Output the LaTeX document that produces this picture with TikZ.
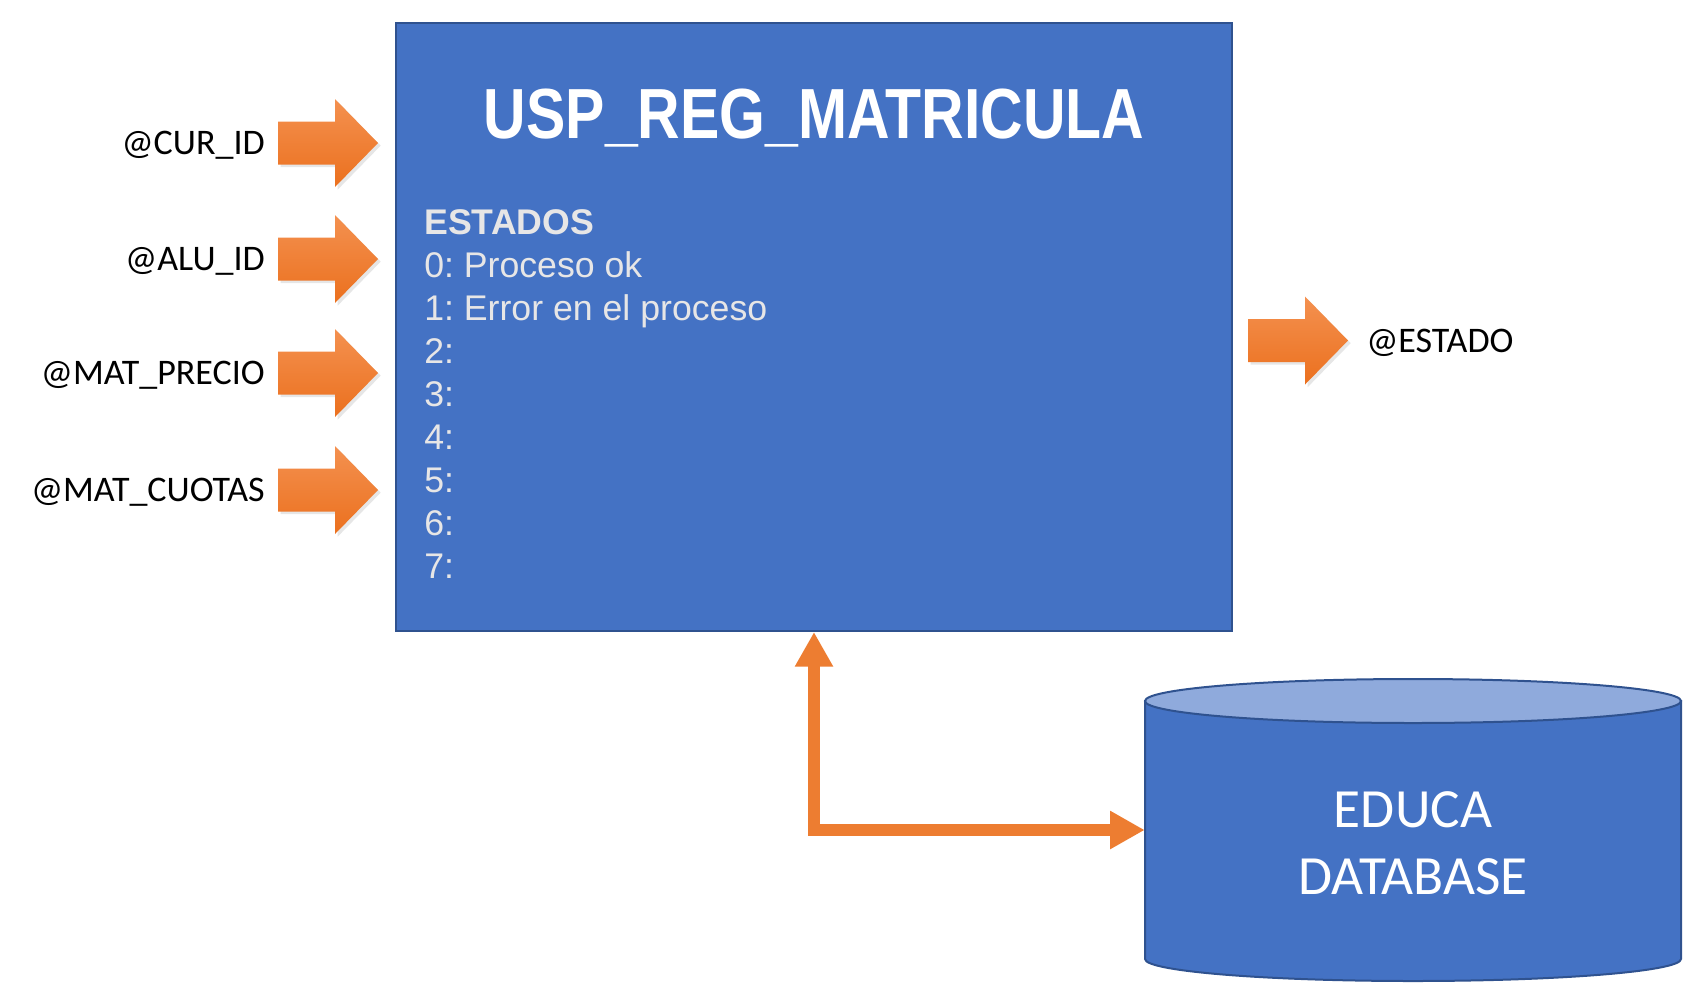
\documentclass[tikz,border=0pt]{standalone}
\usepackage{fontspec}
\setmainfont{Liberation Sans}
\newfontfamily\calibri{Carlito}
\usetikzlibrary{arrows.meta,shadows}

\definecolor{boxblue}{RGB}{68,114,196}
\definecolor{boxline}{RGB}{47,82,143}
\definecolor{toplight}{RGB}{143,170,220}
\definecolor{connorange}{RGB}{237,125,49}
\definecolor{arrowtop}{RGB}{244,145,80}
\definecolor{arrowbottom}{RGB}{235,112,30}
\definecolor{statetext}{RGB}{231,230,230}

\begin{document}
\frenchspacing
\begin{tikzpicture}[x=0.75pt,y=0.75pt,yscale=-1,xscale=1,
    procbox/.style={draw=boxline, fill=boxblue, line width=1.5pt, inner sep=0pt},
    parlabel/.style={font=\calibri\fontsize{27}{32}\selectfont, inner sep=0pt},
    fatarrow/.style={top color=arrowtop, bottom color=arrowbottom, draw=none,
        drop shadow={opacity=0.2, shadow xshift=2pt, shadow yshift=-2pt}},
    conn/.style={draw=connorange, line width=9pt,
        arrows={Triangle[length=26pt,width=27pt]-Triangle[length=26pt,width=27pt]}},
    pics/inarrow/.style={code={
        \path[fatarrow] (0,-21.5) -- (57,-21.5) -- (57,-44) -- (100,0) -- (57,44) -- (57,21.5) -- (0,21.5) -- cycle;}}
  ]
    \useasboundingbox (0,0) rectangle (1703,1004);

    % procedimiento
    \node[procbox, minimum width=627pt, minimum height=456pt, anchor=north west] (proc) at (395,22) {};
    \node[font=\bfseries\fontsize{53.25}{60}\selectfont, text=white, anchor=base, inner sep=0pt] (title) at (814,138) {\scalebox{0.83}[1]{USP\_REG\_MATRICULA}};
    \node[font=\fontsize{26.75}{32.25}\selectfont, text=statetext, align=left, anchor=north west, inner sep=0pt] (estados) at (424,209)
        {\textbf{ESTADOS}\\0: Proceso ok\\1: Error en el proceso\\2:\\3:\\4:\\5:\\6:\\7:};

    % parametros de entrada
    \pic at (278,143) {inarrow};
    \pic at (278,259) {inarrow};
    \pic at (278,373) {inarrow};
    \pic at (278,490) {inarrow};
    \node[parlabel, anchor=base east] (cur) at (265,154) {@CUR\_ID};
    \node[parlabel, anchor=base east] (alu) at (265,270) {@ALU\_ID};
    \node[parlabel, anchor=base east] (precio) at (265,384) {@MAT\_PRECIO};
    \node[parlabel, anchor=base east] (cuotas) at (265,501) {@MAT\_CUOTAS};

    % salida
    \pic at (1248,340.5) {inarrow};
    \node[parlabel, anchor=base west] (estado) at (1366,352) {@ESTADO};

    % base de datos
    \path[draw=boxline, fill=boxblue, line width=1.5pt] (1145,701) -- (1145,959) arc[start angle=180, end angle=0, x radius=268, y radius=22] -- (1681,701) -- cycle;
    \draw[draw=boxline, fill=toplight, line width=1.5pt] (1413,701) ellipse [x radius=268, y radius=22];
    \node[minimum width=402pt, minimum height=226pt, inner sep=0pt] (db) at (1413,830) {};
    \node[font=\calibri\fontsize{41.5}{50}\selectfont, text=white, align=center] (dbname) at (1413,843) {EDUCA\\DATABASE};

    \draw[conn] (proc.south) |- (db.west);
\end{tikzpicture}
\end{document}
